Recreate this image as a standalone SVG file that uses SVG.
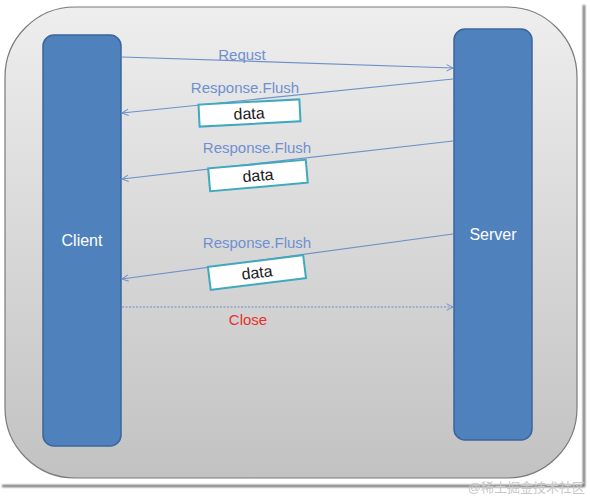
<svg xmlns="http://www.w3.org/2000/svg" width="590" height="497" viewBox="0 0 590 497">
  <defs>
    <linearGradient id="bg" x1="0" y1="0" x2="0" y2="1">
      <stop offset="0" stop-color="#eeeeee"/>
      <stop offset="1" stop-color="#c2c2c2"/>
    </linearGradient>
    <marker id="arr" viewBox="0 0 10 10" refX="9" refY="5" markerWidth="8" markerHeight="8" orient="auto" markerUnits="userSpaceOnUse">
      <path d="M1,1 L9,5 L1,9" fill="none" stroke="#6f90c8" stroke-width="1.2"/>
    </marker>
    <filter id="blur" x="-5%" y="-5%" width="110%" height="110%">
      <feGaussianBlur stdDeviation="0.8"/>
    </filter>
  </defs>
  <style>
    .bar { fill: #4f81bd; stroke: #3a659a; stroke-width: 1.5; }
    .barlabel { font-family: "Liberation Sans", Arial, sans-serif; font-size: 16px; fill: #ffffff; text-anchor: middle; }
    .conn { stroke: #6f90c8; stroke-width: 1.2; fill: none; marker-end: url(#arr); }
    .lbl { font-family: "Liberation Sans", Arial, sans-serif; font-size: 15px; fill: #6f90d0; text-anchor: middle; }
    .dbox { fill: #ffffff; stroke: #3fa9bd; stroke-width: 2; }
    .dtxt { font-family: "Liberation Sans", Arial, sans-serif; font-size: 16px; fill: #1a1a1a; text-anchor: middle; }
  </style>

  <rect x="0" y="0" width="590" height="497" fill="#ffffff"/>
  <!-- frame shadow -->
  <g filter="url(#blur)">
    <line x1="584" y1="5" x2="584" y2="487" stroke="#555" stroke-width="2"/>
    <line x1="2" y1="486" x2="585" y2="486" stroke="#555" stroke-width="2"/>
  </g>
  <!-- background rounded panel -->
  <rect x="5" y="7" width="572" height="471" rx="70" ry="70" fill="url(#bg)" stroke="#7a7a7a" stroke-width="1.2"/>

  <g id="client">
    <rect class="bar" x="43" y="35" width="78" height="411" rx="11" ry="11"/>
    <text class="barlabel" x="82" y="246">Client</text>
  </g>
  <g id="server">
    <rect class="bar" x="454" y="29" width="78" height="411" rx="11" ry="11"/>
    <text class="barlabel" x="493" y="240">Server</text>
  </g>

  <g id="connectors">
    <line class="conn" x1="122" y1="57" x2="453" y2="68"/>
    <line class="conn" x1="453" y1="79" x2="122" y2="113"/>
    <line class="conn" x1="453" y1="141" x2="122" y2="179"/>
    <line class="conn" x1="453" y1="234" x2="122" y2="279"/>
    <line class="conn" x1="122" y1="307" x2="453" y2="307" stroke-dasharray="2,1.5"/>
  </g>

  <g id="labels">
    <text class="lbl" x="242" y="60">Requst</text>
    <text class="lbl" x="245" y="93">Response.Flush</text>
    <text class="lbl" x="257" y="153">Response.Flush</text>
    <text class="lbl" x="257" y="248">Response.Flush</text>
    <text x="248" y="325" font-family="'Liberation Sans', Arial, sans-serif" font-size="15" fill="#e8302a" text-anchor="middle">Close</text>
  </g>

  <g id="data1" transform="rotate(-3 249 113)">
    <rect class="dbox" x="199" y="102" width="101" height="22"/>
    <text class="dtxt" x="249" y="119">data</text>
  </g>
  <g id="data2" transform="rotate(-5 258 176)">
    <rect class="dbox" x="209" y="164" width="98" height="23"/>
    <text class="dtxt" x="258" y="181">data</text>
  </g>
  <g id="data3" transform="rotate(-7 257 273)">
    <rect class="dbox" x="209" y="261" width="96" height="23"/>
    <text class="dtxt" x="257" y="278">data</text>
  </g>

  <text x="585" y="492" font-family="'Liberation Sans', 'Noto Sans CJK SC', sans-serif" font-size="13" fill="#c8c8c8" text-anchor="end">@稀土掘金技术社区</text>
</svg>
